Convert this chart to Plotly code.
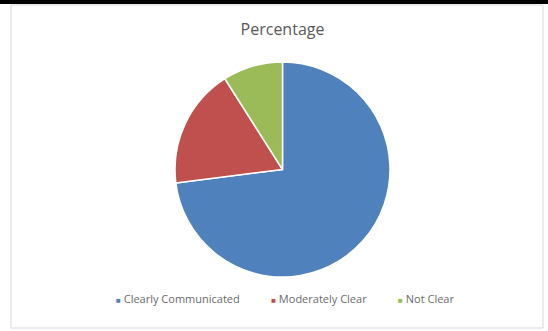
import plotly.graph_objects as go

categories = ["Clearly Communicated", "Moderately Clear", "Not Clear"]
values = [73, 18, 9]
colors = ["#4F81BD", "#C0504D", "#9BBB59"]

W, H = 548, 331
fig = go.Figure()
fig.add_trace(go.Pie(
    labels=categories, values=values, sort=False, direction="clockwise", rotation=0,
    marker=dict(colors=colors, line=dict(color="white", width=1.5)),
    textinfo="none", hoverinfo="label+percent", showlegend=False,
    domain=dict(x=[175 / W, 390 / W], y=[1 - 277 / H, 1 - 62 / H]),
))

legend_text = ("&nbsp;" * 11).join(
    f"<span style='color:{c};font-size:8px'>■</span> {lab}" for lab, c in zip(categories, colors)
)
fig.add_annotation(
    text=legend_text, xref="paper", yref="paper", x=285 / W, y=1 - 298 / H,
    xanchor="center", yanchor="middle", showarrow=False,
    font=dict(family="Open Sans, sans-serif", size=11, color="#6b6b6b"),
)

fig.update_layout(
    width=W, height=H, margin=dict(l=0, r=0, t=0, b=0),
    paper_bgcolor="white", plot_bgcolor="white",
    font=dict(family="Open Sans, sans-serif", color="#595959"),
    title=dict(text="Percentage", x=282.5 / W, xanchor="center", y=1 - 29 / H, yanchor="middle",
               font=dict(size=16, color="#595959")),
    showlegend=False,
    shapes=[
        dict(type="rect", xref="paper", yref="paper", x0=0, x1=1, y0=1 - 4 / H, y1=1,
             fillcolor="black", line=dict(width=0), layer="above"),
        dict(type="rect", xref="paper", yref="paper", x0=11 / W, x1=543 / W, y0=1 - 328 / H, y1=1 - 5 / H,
             fillcolor="rgba(0,0,0,0)", line=dict(color="#D9D9D9", width=1), layer="below"),
    ],
)
fig.write_html("out.html", config={"displayModeBar": False},
               post_script="document.body.style.margin='0';document.body.style.overflow='hidden';")
